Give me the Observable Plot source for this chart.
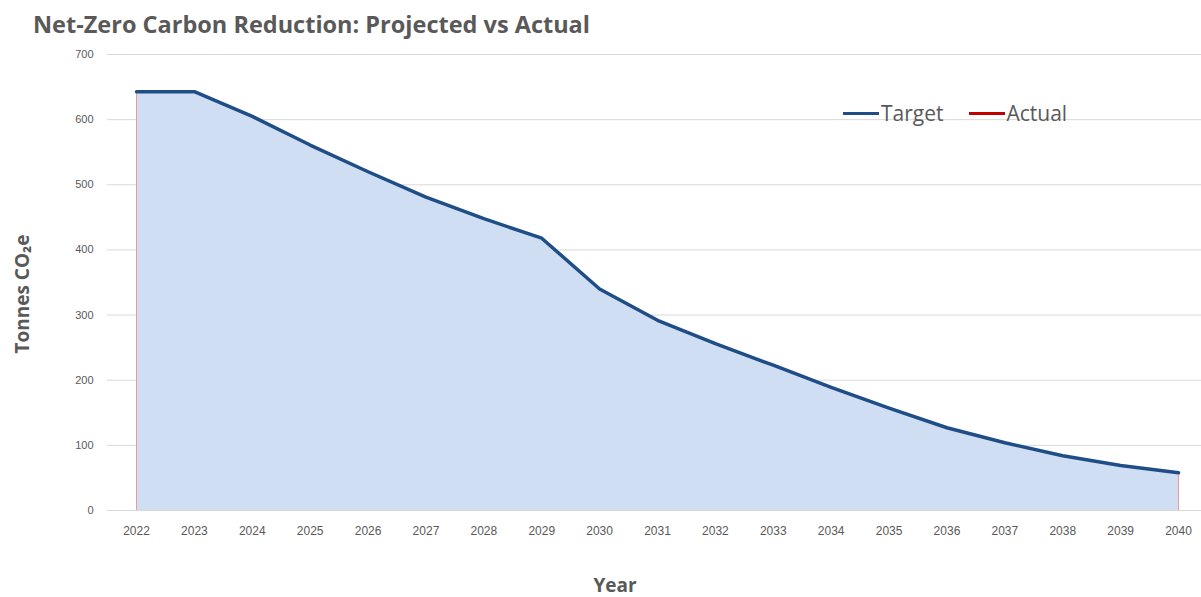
<!DOCTYPE html>
<html>
<head>
<meta charset="utf-8">
<script src="https://cdn.jsdelivr.net/npm/d3@7"></script>
<script src="https://cdn.jsdelivr.net/npm/@observablehq/plot@0.6"></script>
<style>
  html, body { margin: 0; padding: 0; background: #fff; }
  #wrap { position: relative; width: 1201px; height: 597px; overflow: hidden; font-family: "Open Sans", sans-serif; }
  #title { position: absolute; left: 33px; top: 24px; transform: translateY(-50%); font-size: 23.5px; font-weight: 700; color: #595959; white-space: nowrap; }
  #ylab { position: absolute; left: 22px; top: 294px; transform: translate(-50%, -50%) rotate(-90deg); font-size: 19px; font-weight: 700; color: #595959; white-space: nowrap; }
  #xlab { position: absolute; left: 615px; top: 585px; transform: translate(-50%, -50%); font-size: 19px; line-height: 1; font-weight: 700; color: #595959; }
  #legend { position: absolute; left: 843px; top: 113px; transform: translateY(-50%); display: flex; align-items: center; font-size: 21px; color: #595959; white-space: nowrap; }
  #legend .sw { display: inline-block; width: 36px; height: 3px; margin-right: 2px; }
  #legend .item { display: flex; align-items: center; margin-right: 25px; }
  #chart { position: absolute; left: 0; top: 0; }
</style>
</head>
<body>
<div id="wrap">
  <div id="chart"></div>
  <div id="title">Net-Zero Carbon Reduction: Projected vs Actual</div>
  <div id="ylab">Tonnes CO₂e</div>
  <div id="xlab">Year</div>
  <div id="legend"></div>
</div>
<script>
const years = [2022, 2023, 2024, 2025, 2026, 2027, 2028, 2029, 2030, 2031, 2032, 2033, 2034, 2035, 2036, 2037, 2038, 2039, 2040];
const target = [643, 643, 605, 561, 520, 481, 448, 418, 340, 292, 256, 223, 189, 157, 127, 104, 84, 69, 58];
const yTicks = [0, 100, 200, 300, 400, 500, 600, 700];
const seriesNames = ["Target", "Actual"];
const seriesColors = ["#1f4e87", "#c00000"];

const data = years.map((y, i) => ({year: y, value: target[i]}));
const edges = [data[0], data[data.length - 1]];

const chart = Plot.plot({
  width: 1201,
  height: 597,
  marginLeft: 107,
  marginRight: 0,
  marginTop: 54,
  marginBottom: 87,
  style: { fontFamily: "Liberation Sans, sans-serif", fontSize: "11px", color: "#595959", background: "#fff" },
  x: { type: "linear", domain: [2021.499, 2040.397], ticks: years, tickFormat: d => String(d), tickSize: 0, tickPadding: 16, label: null },
  y: { domain: [0, 700], ticks: yTicks, tickSize: 0, tickPadding: 14, label: null },
  marks: [
    Plot.ruleY(yTicks, { stroke: "#d9d9d9", strokeWidth: 1 }),
    Plot.areaY(data, { x: "year", y: "value", fill: "#d0def3" }),
    Plot.ruleX(edges, { x: "year", y1: 0, y2: "value", stroke: "#ef9a9a", strokeWidth: 1 }),
    Plot.lineY(data, { x: "year", y: "value", stroke: seriesColors[0], strokeWidth: 3.5, strokeLinejoin: "round" })
  ]
});
d3.select(chart).selectAll("g[aria-label='x-axis tick label'] text, g[aria-label='y-axis tick label'] text").style("fill", "#595959");
d3.select(chart).select("g[aria-label='x-axis tick label']").attr("font-size", "12px");
document.getElementById("chart").appendChild(chart);

const legend = d3.select("#legend");
seriesNames.forEach((name, i) => {
  const item = legend.append("div").attr("class", "item");
  item.append("span").attr("class", "sw").style("background", seriesColors[i]);
  item.append("span").text(name);
});
</script>
</body>
</html>
